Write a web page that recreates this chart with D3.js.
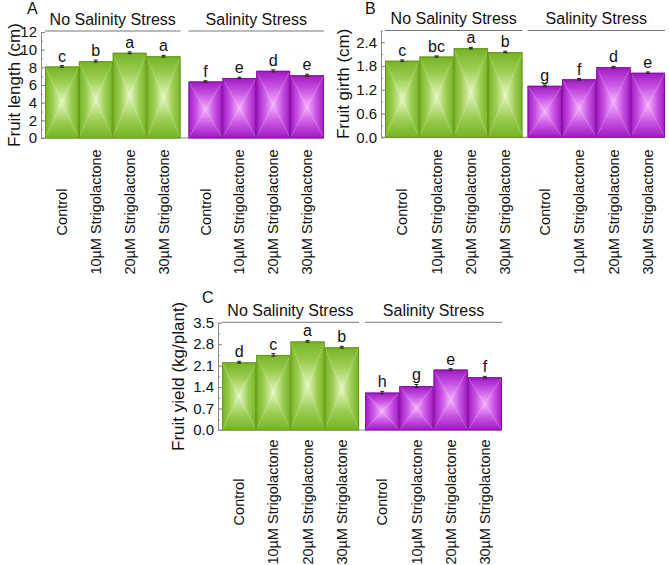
<!DOCTYPE html>
<html><head><meta charset="utf-8">
<script src="https://cdn.jsdelivr.net/npm/d3@7"></script>
<style>
body{margin:0;background:#fff;}
svg{display:block;font-family:"Liberation Sans",Arial,sans-serif;}
</style></head>
<body><svg id="c" width="669" height="565"></svg>
<script>
// ---- data ----
const categories = ["Control","10\u00B5M Strigolactone","20\u00B5M Strigolactone","30\u00B5M Strigolactone"];
const groups = ["No Salinity Stress","Salinity Stress"];

const lengthNoStress = [8.1, 8.7, 9.65, 9.25];
const lengthStress   = [6.4, 6.8, 7.6, 7.1];
const lengthErrNo    = [0.1, 0.12, 0.1, 0.1];
const lengthErrSt    = [0.08, 0.08, 0.12, 0.12];
const lengthLetNo    = ["c","b","a","a"];
const lengthLetSt    = ["f","e","d","e"];
const lengthTicks    = [0,2,4,6,8,10,12];

const girthNoStress  = [1.935, 2.04, 2.25, 2.155];
const girthStress    = [1.30, 1.465, 1.77, 1.63];
const girthErrNo     = [0.02, 0.015, 0.02, 0.02];
const girthErrSt     = [0.02, 0.02, 0.02, 0.02];
const girthLetNo     = ["c","bc","a","b"];
const girthLetSt     = ["g","f","d","e"];
const girthTicks     = [0,0.6,1.2,1.8,2.4];

const yieldNoStress  = [2.21, 2.45, 2.89, 2.70];
const yieldStress    = [1.22, 1.435, 1.97, 1.72];
const yieldErrNo     = [0.03, 0.04, 0.03, 0.03];
const yieldErrSt     = [0.04, 0.05, 0.03, 0.03];
const yieldLetNo     = ["d","c","a","b"];
const yieldLetSt     = ["h","g","e","f"];
const yieldTicks     = [0,0.7,1.4,2.1,2.8,3.5];

// ---- styles ----
const FONT_TICK = 15, FONT_LABEL = 17, FONT_HEAD = 16, FONT_CAT = 14.5, FONT_LET = 16;
const pal = [
  {edge:"#74b424", mid:"#9ccd52", center:"#e4f7c0", stroke:"#679812"},
  {edge:"#a018c2", mid:"#c652e2", center:"#f6aeff", stroke:"#880ea4"}
];

const svg = d3.select("#c");
const defs = svg.append("defs");
pal.forEach((p,gi)=>{
  const dirs = {L:[0,0,1,0], R:[1,0,0,0], T:[0,0,0,1], B:[0,1,0,0]};
  Object.entries(dirs).forEach(([k,v])=>{
    const lg = defs.append("linearGradient").attr("id",`g${gi}${k}`)
      .attr("x1",v[0]).attr("y1",v[1]).attr("x2",v[2]).attr("y2",v[3]);
    lg.append("stop").attr("offset",0).attr("stop-color",p.edge);
    lg.append("stop").attr("offset",0.45).attr("stop-color",p.mid);
    lg.append("stop").attr("offset",1).attr("stop-color",p.center);
  });
});

function drawPanel(cfg){
  const g = svg.append("g");
  const y = d3.scaleLinear().domain([0,cfg.ymax]).range([cfg.yBottom,cfg.yTop]);
  const outer = d3.scaleBand().domain(groups).range([cfg.x0,cfg.x1]).paddingInner(cfg.pad).paddingOuter(0);
  const inner = d3.scaleBand().domain(categories).range([0,outer.bandwidth()]).padding(0);
  const axisX = cfg.x0 - 4;

  // baseline
  g.append("line").attr("x1",axisX).attr("x2",cfg.x1).attr("y1",y(0)).attr("y2",y(0))
    .attr("stroke","#8a8a8a").attr("stroke-width",1.2);

  // minor ticks
  const minor = d3.range(0, cfg.ymax+1e-9, cfg.minorStep);
  g.append("g").attr("transform",`translate(${axisX},0)`)
    .call(d3.axisLeft(y).tickValues(minor).tickSize(-2).tickFormat(""))
    .call(s=>{s.select(".domain").remove(); s.selectAll("line").attr("stroke","#8a8a8a");});
  // major axis
  g.append("g").attr("transform",`translate(${axisX},0)`)
    .call(d3.axisLeft(y).tickValues(cfg.ticks).tickSizeInner(-4).tickSizeOuter(0).tickPadding(4).tickFormat(cfg.fmt))
    .call(s=>{
      s.select(".domain").attr("stroke","#8a8a8a");
      s.selectAll("line").attr("stroke","#8a8a8a");
      s.selectAll("text").attr("font-size",FONT_TICK).attr("fill","#111").attr("font-family","Liberation Sans, Arial, sans-serif");
    });

  // y label
  g.append("text").attr("transform",`translate(${cfg.ylabX},${(y(0)+y(cfg.ymax))/2}) rotate(-90)`)
    .attr("text-anchor","middle").attr("font-size",FONT_LABEL).attr("fill","#111").text(cfg.ylabel);
  // panel letter
  g.append("text").attr("x",cfg.letX).attr("y",cfg.letY).attr("font-size",FONT_HEAD).attr("fill","#111").text(cfg.letter);

  groups.forEach((grp,gi)=>{
    const gx = outer(grp);
    const vals = cfg.values[gi], errs = cfg.errs[gi], lets = cfg.lets[gi];
    // header
    g.append("text").attr("x",gx+outer.bandwidth()/2).attr("y",cfg.headY)
      .attr("text-anchor","middle").attr("font-size",FONT_HEAD).attr("fill","#111").text(grp);
    g.append("line").attr("x1",gx).attr("x2",gx+outer.bandwidth()).attr("y1",cfg.lineY).attr("y2",cfg.lineY)
      .attr("stroke","#777").attr("stroke-width",1);

    categories.forEach((c,i)=>{
      const bx = gx + inner(c), bw = inner.bandwidth();
      const by = y(vals[i]), bb = y(0);
      const cx = bx + bw/2, cy = (by+bb)/2;
      const bar = g.append("g");
      bar.append("path").attr("d",`M${bx},${by}L${cx},${cy}L${bx},${bb}Z`).attr("fill",`url(#g${gi}L)`);
      bar.append("path").attr("d",`M${bx+bw},${by}L${cx},${cy}L${bx+bw},${bb}Z`).attr("fill",`url(#g${gi}R)`);
      bar.append("path").attr("d",`M${bx},${by}L${cx},${cy}L${bx+bw},${by}Z`).attr("fill",`url(#g${gi}T)`);
      bar.append("path").attr("d",`M${bx},${bb}L${cx},${cy}L${bx+bw},${bb}Z`).attr("fill",`url(#g${gi}B)`);
      bar.append("rect").attr("x",bx+0.5).attr("y",by+0.5).attr("width",bw-1).attr("height",bb-by-0.5)
        .attr("fill","none").attr("stroke",pal[gi].stroke).attr("stroke-width",1);
      // error bar
      const e1 = y(vals[i]+errs[i]), e0 = y(vals[i]-errs[i]);
      g.append("line").attr("x1",cx).attr("x2",cx).attr("y1",e1).attr("y2",e0).attr("stroke","#222").attr("stroke-width",1);
      g.append("line").attr("x1",cx-2).attr("x2",cx+2).attr("y1",e1).attr("y2",e1).attr("stroke","#222").attr("stroke-width",1);
      g.append("line").attr("x1",cx-2).attr("x2",cx+2).attr("y1",e0).attr("y2",e0).attr("stroke","#222").attr("stroke-width",1);
      // letter
      g.append("text").attr("x",cx).attr("y",e1-4).attr("text-anchor","middle")
        .attr("font-size",FONT_LET).attr("fill","#111").text(lets[i]);
      // category label
      g.append("text").attr("transform",`translate(${cx},${cfg.catY}) rotate(-90)`)
        .attr("dy","0.35em").attr("text-anchor","middle").attr("font-size",FONT_CAT).attr("fill","#111").text(c);
    });
  });
}

const fmtInt = d3.format("d"), fmt1 = d3.format(".1f");
drawPanel({letter:"A",letX:27,letY:14,ylabel:"Fruit length (cm)",ylabX:20,
  x0:45,x1:324,pad:0.056,yTop:32,yBottom:138,ymax:12,ticks:lengthTicks,minorStep:1,fmt:fmtInt,
  values:[lengthNoStress,lengthStress],errs:[lengthErrNo,lengthErrSt],lets:[lengthLetNo,lengthLetSt],
  headY:25,lineY:31,catY:212});
drawPanel({letter:"B",letX:365,letY:14,ylabel:"Fruit girth (cm)",ylabX:349,
  x0:385,x1:665,pad:0.036,yTop:30.4,yBottom:137.3,ymax:2.7,ticks:girthTicks,minorStep:0.3,fmt:fmt1,
  values:[girthNoStress,girthStress],errs:[girthErrNo,girthErrSt],lets:[girthLetNo,girthLetSt],
  headY:24,lineY:30.5,catY:212});
drawPanel({letter:"C",letX:202,letY:303,ylabel:"Fruit yield (kg/plant)",ylabX:184,
  x0:222,x1:502,pad:0.043,yTop:322.7,yBottom:430,ymax:3.5,ticks:yieldTicks,minorStep:0.35,fmt:fmt1,
  values:[yieldNoStress,yieldStress],errs:[yieldErrNo,yieldErrSt],lets:[yieldLetNo,yieldLetSt],
  headY:316,lineY:322.3,catY:502});
</script></body></html>
